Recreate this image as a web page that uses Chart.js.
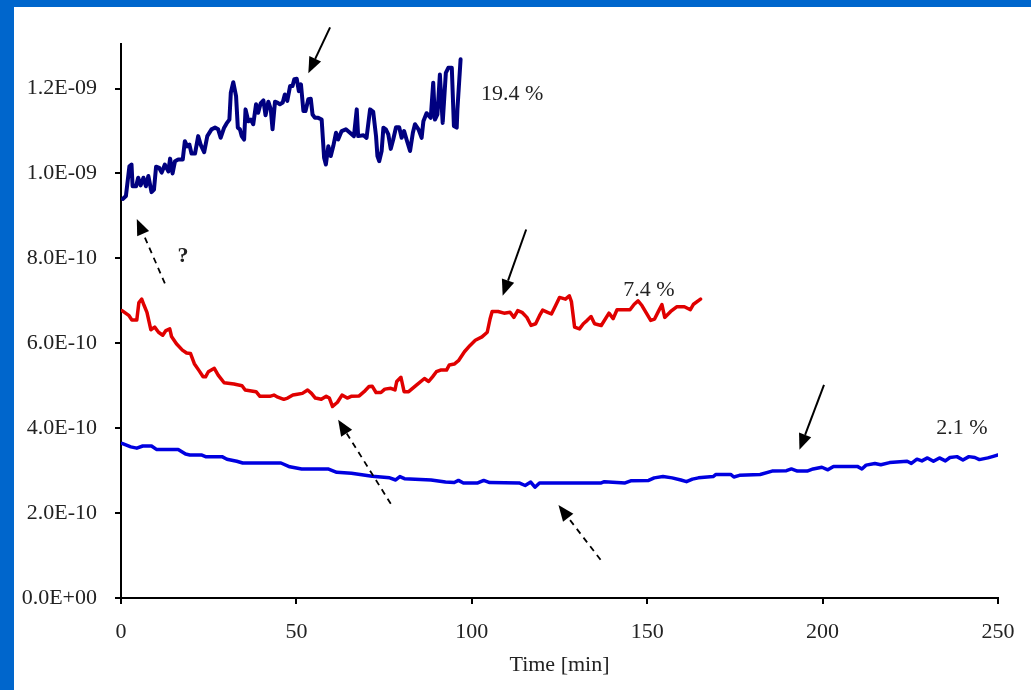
<!DOCTYPE html>
<html>
<head>
<meta charset="utf-8">
<script src="https://cdn.jsdelivr.net/npm/chart.js@4.4.1/dist/chart.umd.min.js"></script>
<style>
    html, body { margin: 0; padding: 0; background: #ffffff; }
    #wrap {
        position: absolute; left: 0; top: 0;
        width: 1031px; height: 690px;
        box-sizing: border-box;
        border-left: 14px solid #0066CC;
        border-top: 7px solid #0066CC;
        background: #ffffff;
    }
</style>
</head>
<body>
<div id="wrap"><canvas id="chart" width="1017" height="683"></canvas></div>
<script>
// values are in units of 1E-10
const navyTime = [0.5,1.4,2.4,3.0,3.3,4.3,4.9,5.6,6.4,7.1,7.8,8.7,9.4,10.0,10.9,11.6,12.5,13.5,14.0,14.7,15.4,16.3,17.6,18.2,18.9,19.5,20.1,21.1,22.0,22.7,23.7,24.6,25.8,26.8,27.7,28.4,29.4,30.1,30.9,31.3,32.0,32.8,33.3,33.9,34.4,35.1,35.5,36.3,37.0,37.7,38.5,39.1,39.8,40.6,41.2,42.0,42.7,43.2,43.9,44.6,45.3,46.1,46.7,47.4,48.2,48.9,49.4,50.1,50.7,51.3,52.0,52.6,53.4,54.1,54.6,55.3,56.2,57.2,57.9,58.4,59.1,59.8,60.5,61.3,61.9,62.9,64.1,65.1,66.4,67.2,67.6,69.1,70.0,71.0,71.9,72.7,73.1,73.6,74.3,74.8,75.5,76.2,76.9,77.6,78.4,79.3,80.0,80.7,81.4,82.4,83.2,83.8,84.8,85.7,86.2,87.1,88.3,89.0,89.5,90.2,90.9,91.7,92.6,93.3,94.3,94.9,95.7,95.9,96.8];
const navyValue = [9.40,9.47,10.17,10.21,9.70,9.70,9.90,9.72,9.90,9.70,9.94,9.56,9.62,10.16,10.13,10.02,10.21,10.05,10.35,10.00,10.29,10.33,10.33,10.76,10.64,10.68,10.47,10.47,10.88,10.68,10.50,10.88,11.04,11.08,11.04,10.84,11.08,11.18,11.27,11.90,12.15,11.82,11.08,11.04,10.88,10.80,11.51,11.23,11.27,11.16,11.63,11.43,11.65,11.72,11.37,11.69,11.51,11.04,11.69,11.67,11.63,11.67,11.86,11.71,12.06,12.06,12.22,12.23,11.94,12.10,11.47,11.47,11.75,11.76,11.39,11.31,11.31,11.27,10.37,10.21,10.64,10.41,10.64,10.96,10.80,11.00,11.04,10.97,10.88,11.51,10.88,10.90,10.84,11.51,11.45,10.88,10.41,10.29,10.53,11.08,11.04,10.92,10.58,10.80,11.09,11.09,10.84,11.00,10.80,10.53,10.96,11.16,11.04,10.84,11.23,11.42,11.31,12.14,11.27,11.39,12.33,11.19,12.37,12.49,12.49,11.12,11.08,11.51,12.69];

const redTime = [0.3,2.3,3.1,4.5,5.1,5.9,6.6,7.4,8.5,9.6,10.7,11.9,12.8,13.9,14.4,15.8,17.5,18.7,19.8,20.9,22.3,23.4,24.1,24.9,26.6,27.7,29.4,32.2,34.5,35.4,38.5,39.6,42.4,43.6,44.7,46.4,47.5,49.0,50.3,51.7,53.2,54.3,55.4,57.1,58.5,59.4,60.3,61.7,63.0,64.5,65.6,67.9,69.3,70.7,71.6,72.7,74.1,75.2,76.9,78.1,78.6,79.8,80.7,82.0,84.3,86.5,87.7,88.8,89.9,91.1,92.8,93.6,95.0,96.2,97.9,99.5,101.0,102.9,104.4,105.2,105.8,107.5,109.2,110.9,112.0,113.1,114.3,115.7,116.9,118.2,119.3,120.2,121.6,122.7,123.9,125.0,126.7,127.8,128.4,129.3,130.7,131.8,132.9,134.0,135.0,136.9,139.1,140.3,141.4,143.1,145.1,146.3,147.4,148.5,149.9,151.0,152.1,153.3,154.2,155.0,156.7,158.4,160.6,162.3,163.2,165.2];
const redValue = [6.77,6.65,6.55,6.55,6.96,7.04,6.89,6.73,6.32,6.38,6.26,6.19,6.30,6.34,6.16,5.99,5.84,5.77,5.76,5.52,5.35,5.21,5.21,5.33,5.41,5.25,5.07,5.04,5.00,4.90,4.86,4.75,4.75,4.78,4.73,4.68,4.71,4.78,4.80,4.82,4.90,4.82,4.71,4.68,4.75,4.71,4.51,4.61,4.78,4.71,4.75,4.76,4.86,4.98,4.99,4.84,4.84,4.92,4.94,4.90,5.10,5.20,4.86,4.86,5.02,5.17,5.10,5.21,5.33,5.37,5.37,5.49,5.51,5.59,5.80,5.95,6.07,6.15,6.26,6.57,6.75,6.75,6.71,6.73,6.61,6.77,6.73,6.61,6.42,6.46,6.65,6.78,6.73,6.69,6.89,7.08,7.04,7.12,6.98,6.38,6.34,6.46,6.54,6.63,6.46,6.42,6.71,6.58,6.79,6.79,6.79,6.92,7.00,6.89,6.69,6.54,6.57,6.77,6.91,6.61,6.75,6.86,6.86,6.79,6.92,7.04];

const blueTime = [0.3,2.8,4.5,6.2,8.7,10.1,16.3,18.4,19.6,22.9,24.1,28.8,30.2,33.0,34.7,45.6,48.1,51.5,59.0,61.5,65.7,71.6,76.6,78.3,79.5,80.8,88.4,92.5,95.0,96.2,97.6,101.7,103.4,105.1,113.5,115.2,116.8,118.0,119.3,136.9,137.8,143.7,145.3,150.4,152.0,154.5,157.1,159.6,161.2,162.9,164.6,168.8,169.6,173.8,174.7,176.3,182.2,185.6,189.7,191.1,192.8,195.6,197.3,199.8,201.5,203.1,209.9,211.2,212.4,214.9,216.6,219.1,224.1,225.3,226.9,228.3,229.9,231.6,233.3,235.0,236.3,238.3,240.0,241.7,243.4,244.7,247.1,248.4,250.0];
const blueValue = [3.64,3.56,3.53,3.58,3.58,3.50,3.50,3.39,3.37,3.37,3.33,3.33,3.27,3.22,3.18,3.18,3.09,3.04,3.04,2.96,2.94,2.87,2.83,2.78,2.86,2.81,2.78,2.73,2.72,2.77,2.71,2.71,2.77,2.72,2.71,2.65,2.73,2.61,2.71,2.71,2.74,2.71,2.76,2.77,2.83,2.86,2.83,2.78,2.74,2.80,2.83,2.86,2.91,2.91,2.85,2.89,2.91,2.99,3.00,3.04,2.99,2.99,3.04,3.08,3.02,3.10,3.10,3.04,3.13,3.17,3.14,3.19,3.22,3.17,3.27,3.23,3.30,3.22,3.30,3.23,3.31,3.33,3.25,3.33,3.31,3.26,3.30,3.33,3.37];

const xTicks = [0, 50, 100, 150, 200, 250];
const yTicks = [0, 2, 4, 6, 8, 10, 12];

// annotations, in data units (time, value)
const noteText = ['19.4 %', '7.4 %', '2.1 %', '?'];
const notePos = [[111.5, 11.86], [150.5, 7.26], [239.7, 4.01], [17.7, 8.04]];
const arrowFrom = [[59.6, 13.44], [12.5, 7.41], [115.5, 8.68], [76.9, 2.22], [200.4, 5.02], [136.7, 0.90]];
const arrowTo = [[53.4, 12.36], [4.5, 8.93], [108.8, 7.12], [61.9, 4.20], [193.4, 3.49], [124.7, 2.19]];
const arrowDashed = [false, true, false, true, false, true];

const FONT = "'Liberation Serif', 'Times New Roman', serif";

function toPoints(t, v) {
    return t.map((x, i) => ({ x: x, y: v[i] }));
}

function sciLabel(v) {
    if (v === 0) return '0.0E+00';
    const parts = (v * 1e-10).toExponential(1).split('e');
    const exp = parseInt(parts[1], 10);
    const sign = exp < 0 ? '-' : '+';
    return parts[0] + 'E' + sign + String(Math.abs(exp)).padStart(2, '0');
}

const notesPlugin = {
    id: 'notes',
    afterDraw(chart) {
        const ctx = chart.ctx;
        const xs = chart.scales.x;
        const ys = chart.scales.y;
        ctx.save();
        ctx.strokeStyle = '#000';
        ctx.fillStyle = '#000';
        arrowFrom.forEach((from, i) => {
            const x1 = xs.getPixelForValue(from[0]);
            const y1 = ys.getPixelForValue(from[1]);
            const x2 = xs.getPixelForValue(arrowTo[i][0]);
            const y2 = ys.getPixelForValue(arrowTo[i][1]);
            const ang = Math.atan2(y2 - y1, x2 - x1);
            const headLen = 16;
            const headW = 6.5;
            const bx = x2 - headLen * Math.cos(ang);
            const by = y2 - headLen * Math.sin(ang);
            ctx.lineWidth = arrowDashed[i] ? 1.8 : 2;
            ctx.setLineDash(arrowDashed[i] ? [6, 5] : []);
            ctx.beginPath();
            ctx.moveTo(x1, y1);
            ctx.lineTo(bx, by);
            ctx.stroke();
            ctx.setLineDash([]);
            ctx.beginPath();
            ctx.moveTo(x2, y2);
            ctx.lineTo(bx + headW * Math.sin(ang), by - headW * Math.cos(ang));
            ctx.lineTo(bx - headW * Math.sin(ang), by + headW * Math.cos(ang));
            ctx.closePath();
            ctx.fill();
        });
        ctx.textAlign = 'center';
        ctx.textBaseline = 'middle';
        ctx.fillStyle = '#222';
        noteText.forEach((txt, i) => {
            ctx.font = (txt === '?' ? 'bold ' : '') + '22px ' + FONT;
            ctx.fillText(txt, xs.getPixelForValue(notePos[i][0]), ys.getPixelForValue(notePos[i][1]));
        });
        ctx.restore();
    }
};

const lineStyle = {
    pointRadius: 0,
    tension: 0,
    fill: false,
    borderJoinStyle: 'round',
    borderCapStyle: 'round'
};

new Chart(document.getElementById('chart').getContext('2d'), {
    type: 'line',
    data: {
        datasets: [
            Object.assign({ label: '19.4 %', data: toPoints(navyTime, navyValue), borderColor: '#000080', borderWidth: 4 }, lineStyle),
            Object.assign({ label: '7.4 %', data: toPoints(redTime, redValue), borderColor: '#E00000', borderWidth: 3.5 }, lineStyle),
            Object.assign({ label: '2.1 %', data: toPoints(blueTime, blueValue), borderColor: '#0000E0', borderWidth: 3.5 }, lineStyle)
        ]
    },
    options: {
        responsive: false,
        animation: false,
        devicePixelRatio: 1,
        layout: { padding: { top: 37, right: 33, left: 0, bottom: 0 } },
        plugins: {
            legend: { display: false },
            tooltip: { enabled: false }
        },
        scales: {
            x: {
                type: 'linear',
                min: 0,
                max: 250,
                afterBuildTicks: axis => { axis.ticks = xTicks.map(v => ({ value: v })); },
                afterFit: axis => { axis.height = 92; },
                border: { color: '#000', width: 2 },
                grid: { drawOnChartArea: false, color: '#000', lineWidth: 2, tickLength: 6 },
                ticks: { color: '#222', font: { family: FONT, size: 22 }, padding: 15, maxRotation: 0 },
                title: {
                    display: true,
                    text: 'Time [min]',
                    color: '#222',
                    font: { family: FONT, size: 22 },
                    padding: { top: 0, bottom: 12 }
                }
            },
            y: {
                type: 'linear',
                min: 0,
                max: 13.05,
                afterBuildTicks: axis => { axis.ticks = yTicks.map(v => ({ value: v })); },
                afterFit: axis => { axis.width = 107; },
                border: { color: '#000', width: 2 },
                grid: { drawOnChartArea: false, color: '#000', lineWidth: 2, tickLength: 6 },
                ticks: { color: '#222', font: { family: FONT, size: 22 }, padding: 18, callback: v => sciLabel(v) }
            }
        }
    },
    plugins: [notesPlugin]
});
</script>
</body>
</html>
